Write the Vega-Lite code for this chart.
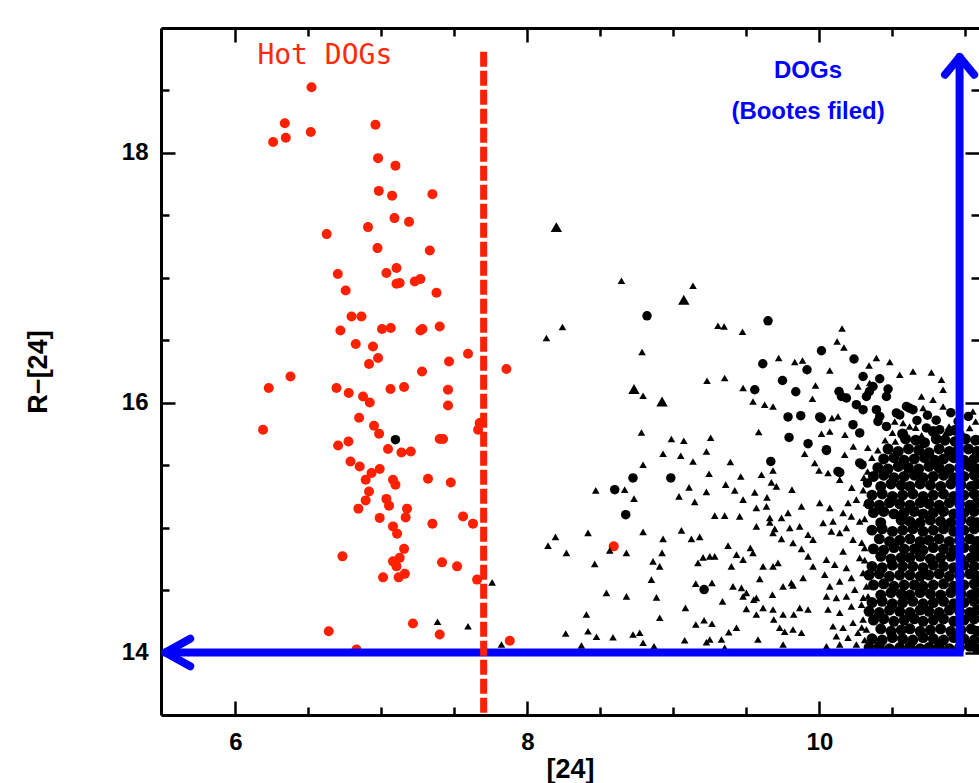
{
"$schema": "https://vega.github.io/schema/vega-lite/v6.json",
"width": 818, "height": 687,
"autosize": {"type": "none"},
"padding": {"left": 161, "top": 28, "right": 0, "bottom": 68},
"background": "white",
"config": {"view": {"stroke": null},
 "axis": {"grid": false, "domainColor": "black", "domainWidth": 3, "tickColor": "black", "tickWidth": 2.5, "labelFont": "Liberation Sans", "labelFontSize": 24, "labelFontWeight": "bold", "labelColor": "black", "titleFont": "Liberation Sans", "titleFontSize": 27, "titleFontWeight": "bold", "titleColor": "black"}},
"datasets": {
"hot": [{"x":6.521,"y":18.526},{"x":6.338,"y":18.238},{"x":6.516,"y":18.168},{"x":6.258,"y":18.088},{"x":6.345,"y":18.122},{"x":6.959,"y":18.226},{"x":6.977,"y":17.958},{"x":7.096,"y":17.898},{"x":6.982,"y":17.696},{"x":7.073,"y":17.658},{"x":7.349,"y":17.670},{"x":7.089,"y":17.478},{"x":7.189,"y":17.448},{"x":6.908,"y":17.406},{"x":6.625,"y":17.350},{"x":6.973,"y":17.238},{"x":7.331,"y":17.218},{"x":6.701,"y":17.030},{"x":7.034,"y":17.038},{"x":7.103,"y":17.078},{"x":6.755,"y":16.898},{"x":7.103,"y":16.952},{"x":7.125,"y":16.958},{"x":7.228,"y":16.970},{"x":7.267,"y":16.990},{"x":7.377,"y":16.880},{"x":6.795,"y":16.690},{"x":6.863,"y":16.690},{"x":6.719,"y":16.578},{"x":7.004,"y":16.590},{"x":7.064,"y":16.598},{"x":7.267,"y":16.578},{"x":7.281,"y":16.590},{"x":7.399,"y":16.610},{"x":6.824,"y":16.470},{"x":6.942,"y":16.450},{"x":6.977,"y":16.358},{"x":6.915,"y":16.310},{"x":7.593,"y":16.392},{"x":7.463,"y":16.330},{"x":7.278,"y":16.250},{"x":6.377,"y":16.210},{"x":6.228,"y":16.118},{"x":6.692,"y":16.118},{"x":6.776,"y":16.078},{"x":6.874,"y":16.050},{"x":6.920,"y":16.002},{"x":7.062,"y":16.110},{"x":7.155,"y":16.126},{"x":7.456,"y":16.104},{"x":7.456,"y":15.978},{"x":6.189,"y":15.784},{"x":6.847,"y":15.880},{"x":6.949,"y":15.816},{"x":6.984,"y":15.752},{"x":6.703,"y":15.658},{"x":6.774,"y":15.690},{"x":7.045,"y":15.630},{"x":7.137,"y":15.602},{"x":7.201,"y":15.610},{"x":7.399,"y":15.710},{"x":7.422,"y":15.710},{"x":7.673,"y":15.838},{"x":7.662,"y":15.784},{"x":6.788,"y":15.530},{"x":6.851,"y":15.490},{"x":6.932,"y":15.438},{"x":6.988,"y":15.470},{"x":6.892,"y":15.384},{"x":7.079,"y":15.384},{"x":7.096,"y":15.344},{"x":7.319,"y":15.392},{"x":7.475,"y":15.362},{"x":6.915,"y":15.290},{"x":6.892,"y":15.218},{"x":7.034,"y":15.230},{"x":7.052,"y":15.176},{"x":6.842,"y":15.152},{"x":7.175,"y":15.152},{"x":7.166,"y":15.082},{"x":6.988,"y":15.078},{"x":7.349,"y":15.032},{"x":7.559,"y":15.090},{"x":7.627,"y":15.032},{"x":7.079,"y":15.010},{"x":7.107,"y":14.952},{"x":7.155,"y":14.830},{"x":6.733,"y":14.770},{"x":7.415,"y":14.722},{"x":7.518,"y":14.690},{"x":7.079,"y":14.730},{"x":7.125,"y":14.758},{"x":7.103,"y":14.690},{"x":7.011,"y":14.602},{"x":7.118,"y":14.602},{"x":7.160,"y":14.630},{"x":7.655,"y":14.584},{"x":7.216,"y":14.232},{"x":6.639,"y":14.170},{"x":7.399,"y":14.144},{"x":6.829,"y":14.024},{"x":7.856,"y":16.270},{"x":8.591,"y":14.850},{"x":7.879,"y":14.094}],
"bcirc": [{"x":7.096,"y":15.704},{"x":8.819,"y":16.696},{"x":9.648,"y":16.656},{"x":10.014,"y":16.416},{"x":9.612,"y":16.312},{"x":9.915,"y":16.264},{"x":10.237,"y":16.350},{"x":9.747,"y":16.178},{"x":9.557,"y":16.104},{"x":9.838,"y":16.088},{"x":10.134,"y":16.090},{"x":10.151,"y":16.050},{"x":9.785,"y":15.886},{"x":9.872,"y":15.896},{"x":10.002,"y":15.886},{"x":9.792,"y":15.722},{"x":9.922,"y":15.672},{"x":10.048,"y":15.618},{"x":9.667,"y":15.530},{"x":10.127,"y":15.450},{"x":8.723,"y":15.398},{"x":8.982,"y":15.398},{"x":8.598,"y":15.304},{"x":8.673,"y":15.104},{"x":9.210,"y":14.504},{"x":10.299,"y":16.210},{"x":10.413,"y":16.192},{"x":10.367,"y":16.130},{"x":10.470,"y":16.110},{"x":10.322,"y":16.050},{"x":10.459,"y":16.050},{"x":10.253,"y":15.984},{"x":10.299,"y":15.944},{"x":10.390,"y":15.944},{"x":10.413,"y":15.890},{"x":10.230,"y":15.824},{"x":10.276,"y":15.758},{"x":10.527,"y":15.918},{"x":10.596,"y":15.970},{"x":10.641,"y":15.944},{"x":10.459,"y":15.810},{"x":10.401,"y":15.850},{"x":10.733,"y":15.798},{"x":10.824,"y":15.784},{"x":10.892,"y":15.770},{"x":10.276,"y":15.518},{"x":10.185,"y":16.038},{"x":10.342,"y":16.090},{"x":10.013,"y":15.874},{"x":10.048,"y":15.624},{"x":10.292,"y":15.504},{"x":10.329,"y":15.357},{"x":10.139,"y":15.442},{"x":10.550,"y":15.902},{"x":10.618,"y":15.956},{"x":10.668,"y":15.858},{"x":10.80,"y":15.86},{"x":10.90,"y":15.92},{"x":10.95,"y":15.85},{"x":11.02,"y":15.89},{"x":10.74,"y":15.90}],
"stri": [{"x":8.644,"y":16.976},{"x":9.134,"y":16.936},{"x":8.240,"y":16.606},{"x":8.130,"y":16.518},{"x":9.305,"y":16.616},{"x":9.347,"y":16.610},{"x":9.473,"y":16.568},{"x":8.785,"y":16.406},{"x":10.155,"y":16.594},{"x":10.121,"y":16.490},{"x":10.168,"y":16.442},{"x":9.721,"y":16.358},{"x":9.831,"y":16.326},{"x":9.884,"y":16.338},{"x":10.071,"y":16.258},{"x":10.390,"y":16.358},{"x":10.482,"y":16.326},{"x":10.340,"y":16.298},{"x":9.230,"y":16.176},{"x":9.351,"y":16.198},{"x":9.477,"y":16.118},{"x":9.973,"y":16.138},{"x":9.952,"y":16.032},{"x":8.792,"y":16.056},{"x":9.545,"y":16.010},{"x":9.625,"y":15.984},{"x":9.682,"y":15.970},{"x":10.086,"y":15.878},{"x":10.127,"y":15.890},{"x":8.781,"y":15.762},{"x":8.986,"y":15.710},{"x":9.071,"y":15.696},{"x":9.255,"y":15.720},{"x":9.584,"y":15.766},{"x":10.014,"y":15.752},{"x":10.071,"y":15.770},{"x":9.899,"y":15.592},{"x":8.929,"y":15.592},{"x":9.050,"y":15.576},{"x":9.134,"y":15.530},{"x":9.226,"y":15.610},{"x":9.390,"y":15.526},{"x":8.792,"y":15.504},{"x":9.968,"y":15.518},{"x":9.997,"y":15.458},{"x":10.059,"y":15.438},{"x":8.666,"y":15.304},{"x":8.468,"y":15.298},{"x":8.730,"y":15.232},{"x":9.038,"y":15.250},{"x":9.107,"y":15.322},{"x":9.226,"y":15.286},{"x":9.146,"y":15.206},{"x":9.244,"y":15.432},{"x":9.358,"y":15.344},{"x":9.461,"y":15.410},{"x":9.420,"y":15.298},{"x":9.477,"y":15.224},{"x":9.603,"y":15.424},{"x":9.682,"y":15.458},{"x":9.671,"y":15.362},{"x":9.557,"y":15.282},{"x":9.641,"y":15.242},{"x":9.705,"y":15.330},{"x":9.812,"y":15.304},{"x":9.568,"y":15.158},{"x":9.637,"y":15.170},{"x":9.660,"y":15.078},{"x":9.740,"y":15.078},{"x":9.785,"y":15.118},{"x":9.877,"y":15.170},{"x":8.792,"y":14.966},{"x":9.055,"y":14.978},{"x":9.123,"y":14.910},{"x":9.180,"y":14.926},{"x":9.283,"y":15.096},{"x":9.351,"y":15.096},{"x":9.454,"y":15.090},{"x":9.568,"y":15.010},{"x":9.660,"y":15.042},{"x":9.694,"y":14.990},{"x":8.415,"y":14.958},{"x":8.192,"y":14.926},{"x":8.141,"y":14.856},{"x":8.267,"y":14.798},{"x":8.461,"y":14.710},{"x":8.564,"y":14.818},{"x":8.678,"y":14.798},{"x":8.929,"y":14.910},{"x":8.922,"y":14.798},{"x":8.860,"y":14.730},{"x":8.906,"y":14.690},{"x":9.168,"y":14.718},{"x":9.203,"y":14.762},{"x":9.249,"y":14.770},{"x":9.283,"y":14.770},{"x":9.374,"y":14.856},{"x":9.432,"y":14.784},{"x":9.527,"y":14.838},{"x":9.545,"y":14.798},{"x":9.397,"y":14.690},{"x":9.477,"y":14.744},{"x":9.614,"y":14.690},{"x":9.591,"y":14.590},{"x":9.682,"y":14.690},{"x":9.716,"y":14.718},{"x":7.758,"y":14.562},{"x":8.849,"y":14.584},{"x":9.153,"y":14.552},{"x":9.264,"y":14.558},{"x":9.082,"y":14.358},{"x":9.408,"y":14.530},{"x":9.466,"y":14.518},{"x":9.500,"y":14.478},{"x":9.477,"y":14.450},{"x":8.541,"y":14.478},{"x":8.678,"y":14.450},{"x":8.884,"y":14.442},{"x":9.336,"y":14.410},{"x":9.550,"y":14.424},{"x":9.568,"y":14.438},{"x":9.678,"y":14.464},{"x":9.751,"y":14.530},{"x":9.819,"y":14.538},{"x":8.404,"y":14.304},{"x":8.415,"y":14.170},{"x":8.473,"y":14.126},{"x":8.262,"y":14.152},{"x":8.586,"y":14.122},{"x":7.822,"y":14.064},{"x":8.370,"y":14.056},{"x":8.723,"y":14.144},{"x":8.769,"y":14.158},{"x":8.792,"y":14.078},{"x":8.906,"y":14.278},{"x":8.867,"y":14.050},{"x":9.077,"y":14.098},{"x":9.153,"y":14.224},{"x":9.210,"y":14.258},{"x":9.264,"y":14.230},{"x":9.226,"y":14.082},{"x":9.249,"y":14.104},{"x":9.329,"y":14.104},{"x":9.379,"y":14.162},{"x":9.432,"y":14.198},{"x":9.500,"y":14.350},{"x":9.568,"y":14.304},{"x":9.614,"y":14.358},{"x":9.682,"y":14.344},{"x":9.687,"y":14.264},{"x":9.579,"y":14.104},{"x":9.751,"y":14.064},{"x":9.819,"y":14.184},{"x":9.877,"y":14.158},{"x":9.751,"y":14.304},{"x":9.824,"y":14.304},{"x":9.865,"y":14.358},{"x":9.922,"y":14.344},{"x":9.728,"y":14.198},{"x":9.762,"y":14.166},{"x":9.351,"y":14.038},{"x":9.808,"y":14.558},{"x":9.888,"y":14.598},{"x":9.956,"y":14.690},{"x":9.682,"y":14.958},{"x":9.740,"y":14.910},{"x":9.819,"y":14.878},{"x":9.877,"y":14.830},{"x":9.922,"y":14.770},{"x":9.797,"y":14.998},{"x":9.865,"y":15.010},{"x":9.922,"y":14.944},{"x":9.956,"y":14.904},{"x":7.384,"y":14.246},{"x":7.593,"y":14.210},{"x":10.264,"y":16.130},{"x":10.344,"y":16.158},{"x":10.550,"y":16.224},{"x":10.641,"y":16.250},{"x":10.767,"y":16.242},{"x":10.836,"y":16.184},{"x":10.847,"y":16.104},{"x":10.699,"y":16.050},{"x":10.778,"y":16.024},{"x":10.710,"y":15.958},{"x":10.847,"y":15.970},{"x":10.516,"y":15.850},{"x":10.573,"y":15.838},{"x":10.618,"y":15.810},{"x":10.888,"y":15.810},{"x":10.175,"y":15.744},{"x":10.232,"y":15.650},{"x":10.025,"y":15.038},{"x":10.093,"y":15.050},{"x":10.082,"y":14.970},{"x":10.139,"y":14.958},{"x":10.185,"y":14.998},{"x":10.230,"y":14.904},{"x":10.162,"y":14.810},{"x":10.048,"y":14.744},{"x":10.105,"y":14.704},{"x":10.185,"y":14.678},{"x":10.276,"y":14.758},{"x":10.310,"y":14.838},{"x":10.036,"y":14.624},{"x":10.071,"y":14.530},{"x":10.139,"y":14.570},{"x":10.219,"y":14.598},{"x":10.299,"y":14.638},{"x":10.048,"y":14.450},{"x":10.116,"y":14.438},{"x":10.185,"y":14.450},{"x":10.242,"y":14.504},{"x":10.322,"y":14.530},{"x":10.059,"y":14.344},{"x":10.139,"y":14.318},{"x":10.219,"y":14.370},{"x":10.288,"y":14.384},{"x":10.333,"y":14.450},{"x":10.093,"y":14.210},{"x":10.162,"y":14.198},{"x":10.230,"y":14.238},{"x":10.299,"y":14.264},{"x":10.116,"y":14.130},{"x":10.196,"y":14.118},{"x":10.264,"y":14.158},{"x":10.322,"y":14.184},{"x":10.048,"y":14.050},{"x":10.139,"y":14.064},{"x":10.253,"y":14.064},{"x":10.002,"y":15.198},{"x":10.071,"y":15.158},{"x":10.196,"y":15.198},{"x":10.253,"y":15.224},{"x":10.322,"y":15.198},{"x":10.162,"y":15.118},{"x":10.219,"y":15.090},{"x":10.276,"y":15.050},{"x":10.139,"y":15.384},{"x":10.221,"y":15.320},{"x":10.304,"y":15.400},{"x":10.173,"y":15.584},{"x":10.331,"y":15.640},{"x":11.051,"y":15.930},{"x":11.029,"y":15.798},{"x":10.30,"y":15.30},{"x":10.31,"y":15.07},{"x":10.29,"y":14.88},{"x":10.31,"y":14.74},{"x":10.30,"y":14.44},{"x":10.29,"y":14.20},{"x":10.31,"y":14.10},{"x":10.33,"y":15.45},{"x":10.36,"y":15.56},{"x":10.40,"y":15.62},{"x":10.45,"y":15.70},{"x":10.50,"y":15.76},{"x":10.52,"y":15.69},{"x":10.70,"y":15.74},{"x":10.86,"y":15.75},{"x":10.98,"y":15.76},{"x":10.66,"y":15.80},{"x":10.96,"y":15.95},{"x":11.07,"y":15.85}],
"btri": [{"x":8.198,"y":17.406},{"x":9.071,"y":16.824},{"x":8.730,"y":16.110},{"x":8.922,"y":16.010}],
"blob": [{"x":10.57,"y":15.75},{"x":10.78,"y":15.77},{"x":10.93,"y":15.78},
{"x":10.59,"y":15.71},{"x":10.66,"y":15.70},{"x":10.72,"y":15.68},{"x":10.80,"y":15.71},{"x":10.86,"y":15.70},{"x":10.93,"y":15.69},{"x":11.00,"y":15.71},{"x":11.07,"y":15.70},
{"x":10.47,"y":15.63},{"x":10.54,"y":15.61},{"x":10.61,"y":15.63},{"x":10.68,"y":15.62},{"x":10.75,"y":15.60},{"x":10.82,"y":15.63},{"x":10.89,"y":15.61},{"x":10.95,"y":15.62},{"x":11.02,"y":15.63},{"x":11.08,"y":15.61},
{"x":10.44,"y":15.55},{"x":10.51,"y":15.56},{"x":10.58,"y":15.54},{"x":10.65,"y":15.55},{"x":10.72,"y":15.56},{"x":10.79,"y":15.54},{"x":10.85,"y":15.55},{"x":10.92,"y":15.56},{"x":10.99,"y":15.54},{"x":11.06,"y":15.55},
{"x":10.40,"y":15.48},{"x":10.47,"y":15.47},{"x":10.54,"y":15.49},{"x":10.61,"y":15.48},{"x":10.68,"y":15.47},{"x":10.75,"y":15.49},{"x":10.82,"y":15.48},{"x":10.89,"y":15.47},{"x":10.96,"y":15.48},{"x":11.03,"y":15.49},{"x":11.08,"y":15.47},
{"x":10.37,"y":15.41},{"x":10.44,"y":15.42},{"x":10.51,"y":15.40},{"x":10.58,"y":15.41},{"x":10.65,"y":15.42},{"x":10.71,"y":15.40},{"x":10.78,"y":15.41},{"x":10.85,"y":15.42},{"x":10.92,"y":15.40},{"x":10.99,"y":15.41},{"x":11.06,"y":15.42},
{"x":10.42,"y":15.33},{"x":10.49,"y":15.35},{"x":10.56,"y":15.34},{"x":10.62,"y":15.33},{"x":10.69,"y":15.35},{"x":10.76,"y":15.34},{"x":10.83,"y":15.33},{"x":10.90,"y":15.35},{"x":10.97,"y":15.34},{"x":11.04,"y":15.33},{"x":11.08,"y":15.35},
{"x":10.36,"y":15.26},{"x":10.43,"y":15.27},{"x":10.50,"y":15.25},{"x":10.57,"y":15.26},{"x":10.64,"y":15.27},{"x":10.71,"y":15.25},{"x":10.78,"y":15.26},{"x":10.85,"y":15.27},{"x":10.92,"y":15.25},{"x":10.99,"y":15.26},{"x":11.06,"y":15.27},
{"x":10.34,"y":15.19},{"x":10.41,"y":15.18},{"x":10.48,"y":15.20},{"x":10.55,"y":15.19},{"x":10.62,"y":15.18},{"x":10.69,"y":15.20},{"x":10.75,"y":15.19},{"x":10.82,"y":15.18},{"x":10.89,"y":15.20},{"x":10.96,"y":15.19},{"x":11.03,"y":15.18},{"x":11.08,"y":15.20},
{"x":10.37,"y":15.12},{"x":10.44,"y":15.13},{"x":10.51,"y":15.11},{"x":10.58,"y":15.12},{"x":10.65,"y":15.13},{"x":10.71,"y":15.11},{"x":10.78,"y":15.12},{"x":10.85,"y":15.13},{"x":10.92,"y":15.11},{"x":10.99,"y":15.12},{"x":11.06,"y":15.13},
{"x":10.42,"y":15.04},{"x":10.56,"y":15.06},{"x":10.62,"y":15.05},{"x":10.69,"y":15.04},{"x":10.76,"y":15.06},{"x":10.83,"y":15.05},{"x":10.90,"y":15.04},{"x":10.97,"y":15.06},{"x":11.04,"y":15.05},{"x":11.08,"y":15.04},
{"x":10.36,"y":14.98},{"x":10.43,"y":14.99},{"x":10.50,"y":14.97},{"x":10.57,"y":14.98},{"x":10.64,"y":14.99},{"x":10.71,"y":14.97},{"x":10.78,"y":14.98},{"x":10.85,"y":14.99},{"x":10.92,"y":14.97},{"x":10.99,"y":14.98},{"x":11.06,"y":14.99},
{"x":10.41,"y":14.91},{"x":10.48,"y":14.89},{"x":10.55,"y":14.90},{"x":10.62,"y":14.91},{"x":10.69,"y":14.89},{"x":10.75,"y":14.90},{"x":10.82,"y":14.91},{"x":10.89,"y":14.89},{"x":10.96,"y":14.90},{"x":11.03,"y":14.91},{"x":11.08,"y":14.89},
{"x":10.37,"y":14.83},{"x":10.44,"y":14.82},{"x":10.51,"y":14.84},{"x":10.58,"y":14.83},{"x":10.65,"y":14.83},{"x":10.71,"y":14.82},{"x":10.78,"y":14.84},{"x":10.85,"y":14.83},{"x":10.92,"y":14.82},{"x":10.99,"y":14.84},{"x":11.06,"y":14.83},
{"x":10.42,"y":14.77},{"x":10.49,"y":14.75},{"x":10.56,"y":14.76},{"x":10.62,"y":14.76},{"x":10.69,"y":14.77},{"x":10.76,"y":14.75},{"x":10.83,"y":14.76},{"x":10.90,"y":14.77},{"x":10.97,"y":14.75},{"x":11.04,"y":14.76},{"x":11.08,"y":14.77},
{"x":10.36,"y":14.69},{"x":10.43,"y":14.68},{"x":10.50,"y":14.70},{"x":10.57,"y":14.69},{"x":10.64,"y":14.69},{"x":10.71,"y":14.68},{"x":10.78,"y":14.70},{"x":10.85,"y":14.69},{"x":10.92,"y":14.68},{"x":10.99,"y":14.70},{"x":11.06,"y":14.69},
{"x":10.34,"y":14.62},{"x":10.41,"y":14.63},{"x":10.48,"y":14.61},{"x":10.55,"y":14.62},{"x":10.62,"y":14.62},{"x":10.69,"y":14.61},{"x":10.75,"y":14.62},{"x":10.82,"y":14.63},{"x":10.89,"y":14.61},{"x":10.96,"y":14.62},{"x":11.03,"y":14.63},{"x":11.08,"y":14.61},
{"x":10.37,"y":14.54},{"x":10.44,"y":14.55},{"x":10.51,"y":14.53},{"x":10.58,"y":14.54},{"x":10.65,"y":14.54},{"x":10.71,"y":14.53},{"x":10.78,"y":14.54},{"x":10.85,"y":14.55},{"x":10.92,"y":14.53},{"x":10.99,"y":14.54},{"x":11.06,"y":14.55},
{"x":10.42,"y":14.46},{"x":10.49,"y":14.48},{"x":10.56,"y":14.47},{"x":10.62,"y":14.46},{"x":10.69,"y":14.48},{"x":10.76,"y":14.47},{"x":10.83,"y":14.46},{"x":10.90,"y":14.48},{"x":10.97,"y":14.47},{"x":11.04,"y":14.46},{"x":11.08,"y":14.48},
{"x":10.36,"y":14.40},{"x":10.43,"y":14.41},{"x":10.50,"y":14.39},{"x":10.57,"y":14.40},{"x":10.64,"y":14.41},{"x":10.71,"y":14.39},{"x":10.78,"y":14.40},{"x":10.85,"y":14.41},{"x":10.92,"y":14.39},{"x":10.99,"y":14.40},{"x":11.06,"y":14.41},
{"x":10.34,"y":14.33},{"x":10.41,"y":14.32},{"x":10.48,"y":14.34},{"x":10.55,"y":14.33},{"x":10.62,"y":14.32},{"x":10.69,"y":14.34},{"x":10.75,"y":14.33},{"x":10.82,"y":14.32},{"x":10.89,"y":14.34},{"x":10.96,"y":14.33},{"x":11.03,"y":14.32},{"x":11.08,"y":14.34},
{"x":10.37,"y":14.26},{"x":10.44,"y":14.27},{"x":10.51,"y":14.25},{"x":10.58,"y":14.26},{"x":10.65,"y":14.27},{"x":10.71,"y":14.25},{"x":10.78,"y":14.26},{"x":10.85,"y":14.27},{"x":10.92,"y":14.25},{"x":10.99,"y":14.26},{"x":11.06,"y":14.27},
{"x":10.42,"y":14.19},{"x":10.49,"y":14.17},{"x":10.56,"y":14.18},{"x":10.62,"y":14.19},{"x":10.69,"y":14.17},{"x":10.76,"y":14.18},{"x":10.83,"y":14.19},{"x":10.90,"y":14.17},{"x":10.97,"y":14.18},{"x":11.04,"y":14.19},{"x":11.08,"y":14.17},
{"x":10.36,"y":14.11},{"x":10.43,"y":14.10},{"x":10.50,"y":14.12},{"x":10.57,"y":14.11},{"x":10.64,"y":14.10},{"x":10.71,"y":14.12},{"x":10.78,"y":14.11},{"x":10.85,"y":14.10},{"x":10.92,"y":14.12},{"x":10.99,"y":14.11},{"x":11.06,"y":14.10},
{"x":10.34,"y":14.04},{"x":10.41,"y":14.05},{"x":10.48,"y":14.03},{"x":10.55,"y":14.04},{"x":10.62,"y":14.05},{"x":10.69,"y":14.03},{"x":10.75,"y":14.04},{"x":10.82,"y":14.05},{"x":10.89,"y":14.03},{"x":10.96,"y":14.04},{"x":11.03,"y":14.05},{"x":11.08,"y":14.03}],
"bluemain": [{"o":1,"x":5.52,"y":14.0},{"o":2,"x":10.96,"y":14.0},{"o":3,"x":10.96,"y":18.768}],
"bluearrow": [{"g":"L","o":1,"x":5.69,"y":14.11},{"g":"L","o":2,"x":5.52,"y":14.0},{"g":"L","o":3,"x":5.69,"y":13.89},{"g":"T","o":1,"x":10.86,"y":18.626},{"g":"T","o":2,"x":10.96,"y":18.768},{"g":"T","o":3,"x":11.06,"y":18.626}],
"cut": [{"x":7.70,"y":18.81,"y2":13.5}],
"hotlabel": [{"x":6.612,"y":18.776,"t":"Hot DOGs"}],
"doglabel": [{"x":9.922,"y":18.656,"t":"DOGs"},{"x":9.922,"y":18.328,"t":"(Bootes filed)"}]
},
"layer": [
 {"data": {"name": "hot"},
  "mark": {"type": "point", "shape": "circle", "filled": true, "size": 100, "color": "#ff2000", "opacity": 1},
  "encoding": {
   "x": {"field": "x", "type": "quantitative", "scale": {"domain": [5.49, 11.093], "nice": false, "zero": false},
     "axis": {"orient": "bottom", "values": [6, 8, 10], "format": "d", "tickSize": -14, "labelPadding": 29, "title": "[24]", "titlePadding": 2}},
   "y": {"field": "y", "type": "quantitative", "scale": {"domain": [13.5, 19.0], "nice": false, "zero": false},
     "axis": {"orient": "left", "values": [14, 16, 18], "format": "d", "tickSize": -14, "labelPadding": 27, "title": "R−[24]", "titlePadding": 69}}}},
 {"data": {"name": "bcirc"},
  "mark": {"type": "point", "shape": "circle", "filled": true, "size": 90, "color": "black", "opacity": 1},
  "encoding": {
   "x": {"field": "x", "type": "quantitative", "scale": {"domain": [5.49, 11.093], "nice": false, "zero": false},
     "axis": {"orient": "top", "values": [6, 8, 10], "tickSize": -14, "labels": false, "title": null}},
   "y": {"field": "y", "type": "quantitative", "scale": {"domain": [13.5, 19.0], "nice": false, "zero": false},
     "axis": {"orient": "right", "values": [14, 16, 18], "tickSize": -14, "labels": false, "domain": false, "title": null}}}},
 {"data": {"name": "stri"},
  "mark": {"type": "point", "shape": "triangle-up", "filled": true, "size": 58, "color": "black", "opacity": 1},
  "encoding": {
   "x": {"field": "x", "type": "quantitative", "scale": {"domain": [5.49, 11.093], "nice": false, "zero": false},
     "axis": {"orient": "bottom", "values": [6.5, 7, 7.5, 8.5, 9, 9.5, 10.5, 11], "tickSize": -8, "labels": false, "domain": false, "title": null}},
   "y": {"field": "y", "type": "quantitative", "scale": {"domain": [13.5, 19.0], "nice": false, "zero": false},
     "axis": {"orient": "left", "values": [14.5, 15, 15.5, 16.5, 17, 17.5, 18.5], "tickSize": -8, "labels": false, "domain": false, "title": null}}}},
 {"data": {"name": "btri"},
  "mark": {"type": "point", "shape": "triangle-up", "filled": true, "size": 130, "color": "black", "opacity": 1},
  "encoding": {
   "x": {"field": "x", "type": "quantitative", "scale": {"domain": [5.49, 11.093], "nice": false, "zero": false},
     "axis": {"orient": "top", "values": [6.5, 7, 7.5, 8.5, 9, 9.5, 10.5, 11], "tickSize": -8, "labels": false, "domain": false, "title": null}},
   "y": {"field": "y", "type": "quantitative", "scale": {"domain": [13.5, 19.0], "nice": false, "zero": false},
     "axis": {"orient": "right", "values": [14.5, 15, 15.5, 16.5, 17, 17.5, 18.5], "tickSize": -8, "labels": false, "domain": false, "title": null}}}},
 {"data": {"name": "blob"},
  "mark": {"type": "point", "shape": "circle", "filled": true, "size": 120, "color": "black", "opacity": 1},
  "encoding": {
   "x": {"field": "x", "type": "quantitative", "axis": null},
   "y": {"field": "y", "type": "quantitative", "axis": null}}},
 {"data": {"name": "bluemain"},
  "mark": {"type": "line", "color": "#0000ff", "strokeWidth": 8, "strokeCap": "round", "strokeJoin": "miter"},
  "encoding": {
   "x": {"field": "x", "type": "quantitative", "axis": null},
   "y": {"field": "y", "type": "quantitative", "axis": null},
   "order": {"field": "o"}}},
 {"data": {"name": "bluearrow"},
  "mark": {"type": "line", "color": "#0000ff", "strokeWidth": 8, "strokeCap": "round", "strokeJoin": "round"},
  "encoding": {
   "x": {"field": "x", "type": "quantitative", "axis": null},
   "y": {"field": "y", "type": "quantitative", "axis": null},
   "detail": {"field": "g"},
   "order": {"field": "o"}}},
 {"data": {"name": "cut"},
  "mark": {"type": "rule", "color": "#ff2000", "strokeWidth": 7, "strokeDash": [15, 4]},
  "encoding": {
   "x": {"field": "x", "type": "quantitative", "axis": null},
   "y": {"field": "y", "type": "quantitative", "axis": null},
   "y2": {"field": "y2"}}},
 {"data": {"name": "hotlabel"},
  "mark": {"type": "text", "font": "DejaVu Sans Mono", "fontSize": 28, "color": "#ff2a0a", "align": "center", "baseline": "middle"},
  "encoding": {
   "x": {"field": "x", "type": "quantitative", "axis": null},
   "y": {"field": "y", "type": "quantitative", "axis": null},
   "text": {"field": "t"}}},
 {"data": {"name": "doglabel"},
  "mark": {"type": "text", "font": "Liberation Sans", "fontWeight": "bold", "fontSize": 24, "color": "#0000ff", "align": "center", "baseline": "middle"},
  "encoding": {
   "x": {"field": "x", "type": "quantitative", "axis": null},
   "y": {"field": "y", "type": "quantitative", "axis": null},
   "text": {"field": "t"}}}
],
"resolve": {"axis": {"x": "independent", "y": "independent"}}
}
